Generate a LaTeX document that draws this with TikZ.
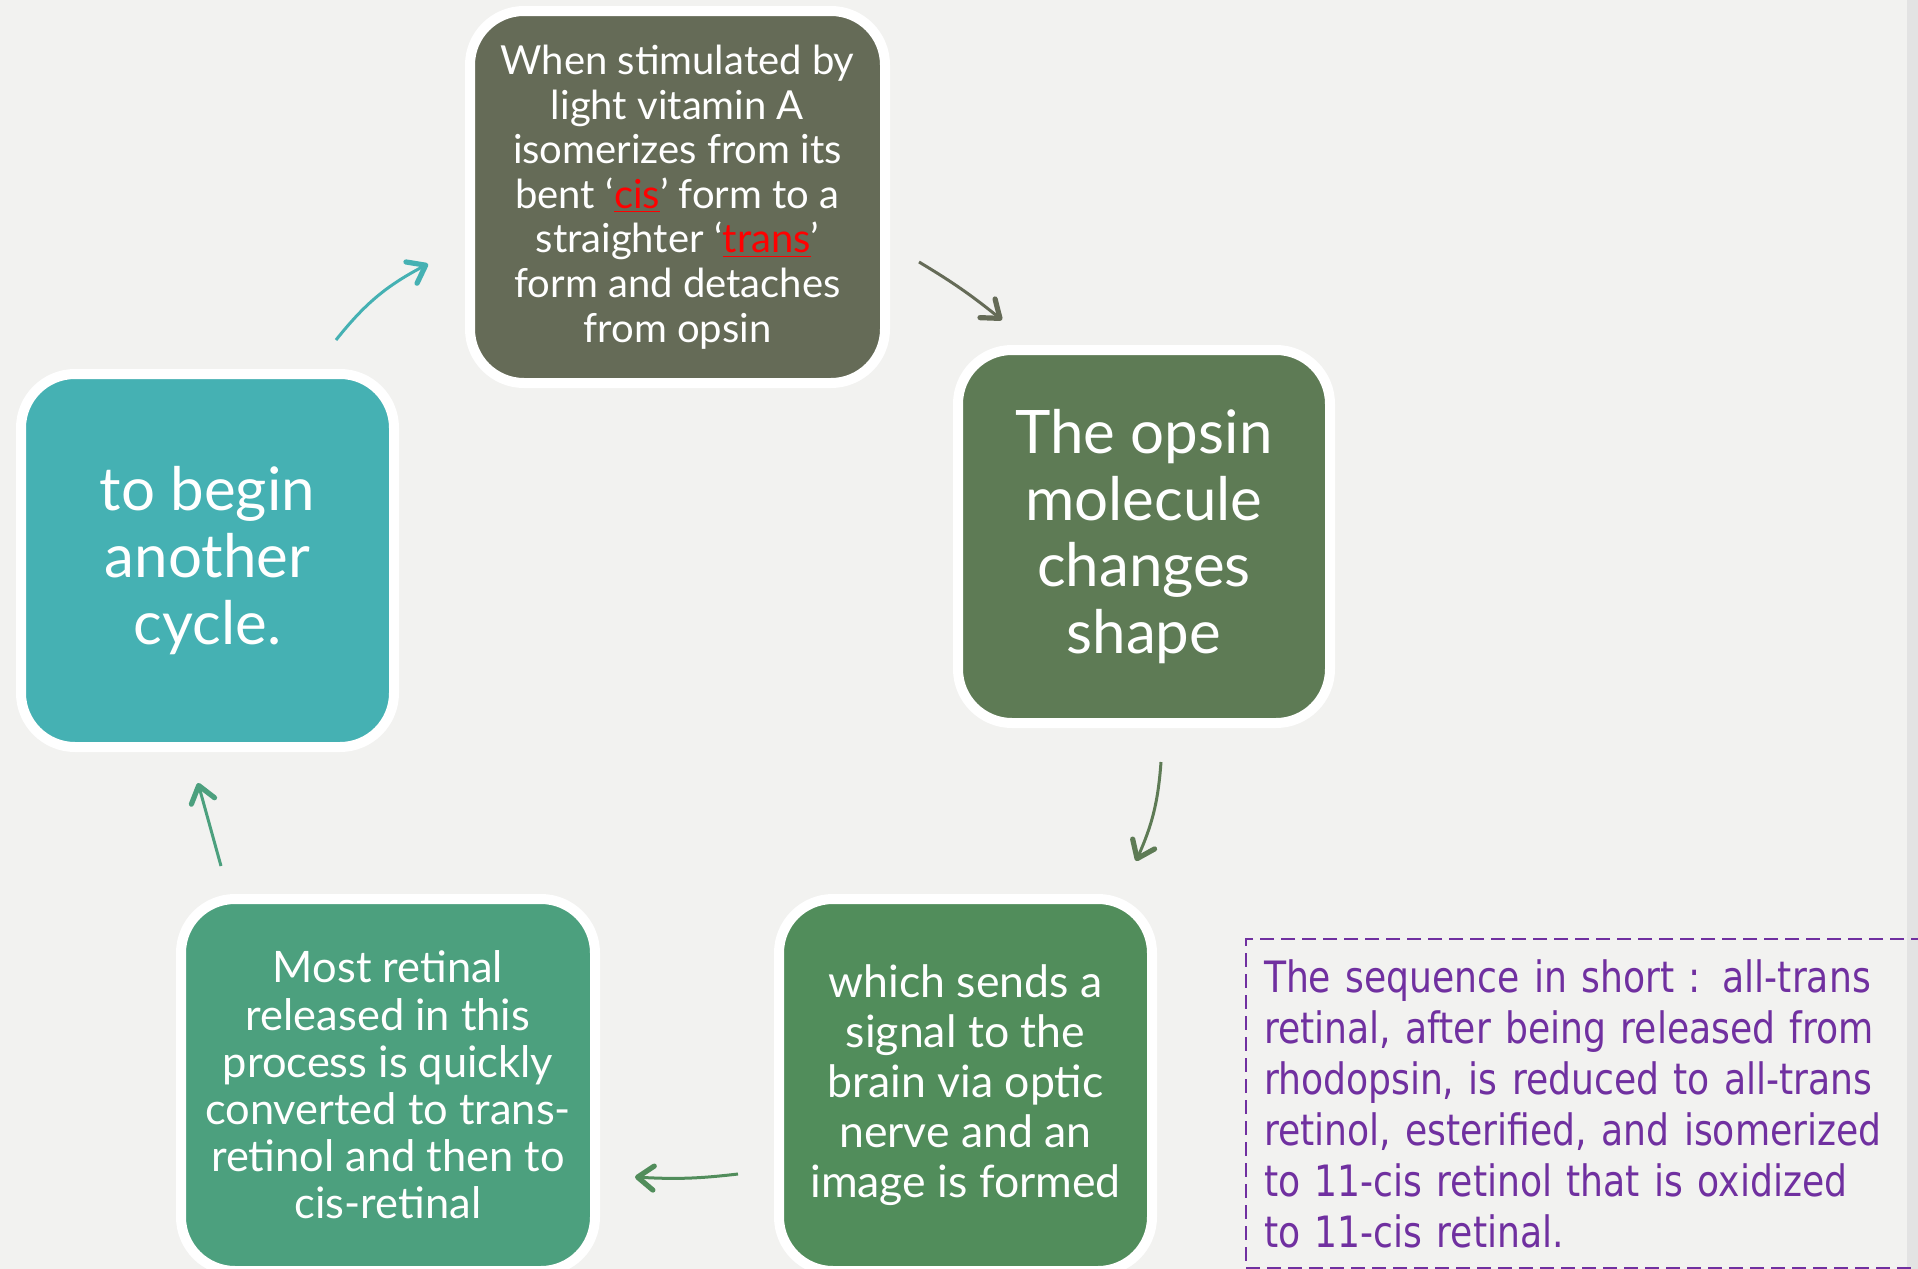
\documentclass[tikz,border=0pt]{standalone}
\usepackage{fontspec}
\setmainfont{Lato}
\newfontfamily\summaryfont[FakeStretch=0.93]{DejaVu Sans Condensed}
\usetikzlibrary{arrows.meta}
\definecolor{bgcol}{HTML}{F2F2F0}
\definecolor{stripcol}{HTML}{E3E3E3}
\definecolor{olivebox}{HTML}{656B57}
\definecolor{mossbox}{HTML}{5E7B55}
\definecolor{greenbox}{HTML}{518D5B}
\definecolor{jadebox}{HTML}{4CA07E}
\definecolor{tealbox}{HTML}{45B1B3}
\definecolor{notepurple}{HTML}{7030A0}
\newcommand{\redword}[1]{\textcolor{red}{\underline{#1}}}
\tikzstyle{cyclebox} = [rectangle, rounded corners=27pt, draw=white, line width=5pt, text=white, align=center, inner sep=0pt]
\tikzstyle{arrow} = [line width=1.5pt, -{Straight Barb[length=8pt, width=12pt, line width=2.6pt, round]}]
\tikzstyle{note} = [rectangle, draw=notepurple, line width=1pt, dash pattern=on 7pt off 3.5pt, text=notepurple, align=left, inner xsep=8pt]
\begin{document}
\begin{tikzpicture}[x=0.5pt,y=-0.5pt]
\useasboundingbox (0,0) rectangle (1918,1269);
\fill[bgcol] (0,0) rectangle (1918,1269);
\fill[stripcol] (1907,0) rectangle (1918,1269);

%%%%% ADDING MAIN BLOCKS
\node (vision) [cyclebox, fill=olivebox, minimum width=207.5pt, minimum height=186pt, font=\fontsize{20pt}{22.3pt}\selectfont] at (677.5,197)
  {When stimulated by\\ light vitamin A\\ isomerizes from its\\ bent ‘\redword{cis}’ form to a\\ straighter ‘\redword{trans}’\\ form and detaches\\ from opsin};
\node (opsin) [cyclebox, fill=mossbox, minimum width=186pt, minimum height=186.5pt, font=\fontsize{30pt}{33.4pt}\selectfont] at (1144,536.5)
  {The opsin\\ molecule\\ changes\\ shape};
\node (signal) [cyclebox, fill=greenbox, minimum width=186.5pt, minimum height=186pt, font=\fontsize{22.3pt}{25pt}\selectfont] at (965.5,1085)
  {which sends a\\ signal to the\\ brain via optic\\ nerve and an\\ image is formed};
\node (retinal) [cyclebox, fill=jadebox, minimum width=207pt, minimum height=186pt, font=\fontsize{21.7pt}{23.6pt}\selectfont] at (388,1085)
  {Most retinal\\ released in this\\ process is quickly\\ converted to trans-\\ retinol and then to\\ cis-retinal};
\node (cycle) [cyclebox, fill=tealbox, minimum width=186.5pt, minimum height=186.5pt, font=\fontsize{30pt}{33.4pt}\selectfont] at (207.5,560.5)
  {to begin\\ another\\ cycle.};

% the short version, box runs off the right edge
\node (summary) [note, anchor=north west, minimum width=350pt, minimum height=164.5pt, text width=332pt, font=\summaryfont\fontsize{21.6pt}{25.5pt}\selectfont] at (1245,938)
  {The sequence in short : all-trans\\ retinal, after being released from\\ rhodopsin, is reduced to all-trans\\ retinol, esterified, and isomerized\\ to 11-cis retinol that is oxidized\\ to 11-cis retinal.};

%%%%% ADDING ARROWS
\coordinate (a1s) at (336,340);
\coordinate (a1e) at (428,264);
\coordinate (a2s) at (919,262);
\coordinate (a2e) at (1002,320);
\coordinate (a3s) at (1161,762);
\coordinate (a3e) at (1136,861);
\coordinate (a4s) at (738,1174);
\coordinate (a4e) at (635,1177);
\coordinate (a5s) at (221,866);
\coordinate (a5e) at (198,783);

\draw [arrow, tealbox] (a1s) to[bend left=12] (a1e);
\draw [arrow, olivebox] (a2s) to[bend left=4] (a2e);
\draw [arrow, mossbox] (a3s) to[bend left=10] (a3e);
\draw [arrow, greenbox] (a4s) to[bend left=5] (a4e);
\draw [arrow, jadebox] (a5s) -- (a5e);
\end{tikzpicture}
\end{document}
